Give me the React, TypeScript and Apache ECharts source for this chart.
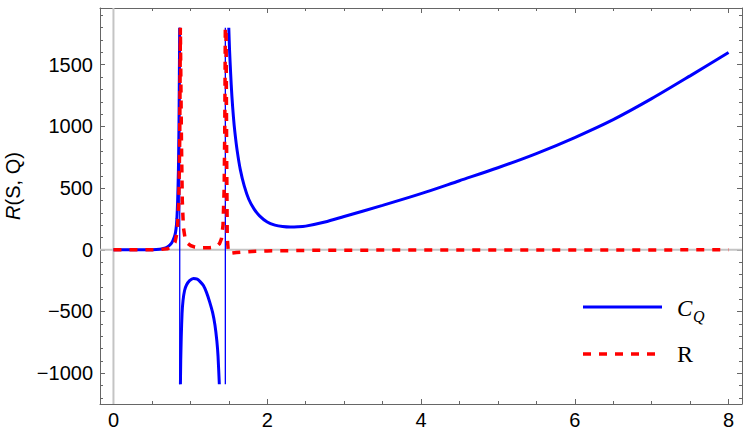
import React, { useEffect, useRef } from "react";
import * as echarts from "echarts";

// ---- data ----
const xMajorTicks = [0, 2, 4, 6, 8];
const xMinorTicks = [0.5, 1, 1.5, 2.5, 3, 3.5, 4.5, 5, 5.5, 6.5, 7, 7.5];
const yMajorTicks = [-1000, -500, 0, 500, 1000, 1500];
const yMinorTicks = [-1200, -1100, -900, -800, -700, -600, -400, -300, -200, -100, 100, 200, 300, 400, 600, 700, 800, 900, 1100, 1200, 1300, 1400, 1600, 1700, 1800, 1900];

// C_Q, branch left of first pole
const cqLeftX = [0, 0.3, 0.5, 0.6, 0.65, 0.7, 0.74, 0.77, 0.8, 0.815, 0.825, 0.835, 0.845, 0.852, 0.857, 0.861];
const cqLeftY = [0, 0, 1, 4, 10, 22, 42, 70, 120, 175, 250, 400, 650, 1000, 1400, 1800];
// C_Q, branch between poles
const cqMidX = [0.871, 0.875, 0.882, 0.892, 0.905, 0.925, 0.95, 0.99, 1.04, 1.09, 1.13, 1.17, 1.21, 1.25, 1.29, 1.32, 1.345, 1.36, 1.377];
const cqMidY = [-1090, -900, -700, -520, -410, -330, -285, -250, -232, -238, -260, -290, -345, -420, -510, -610, -740, -860, -1090];
// C_Q, branch right of second pole
const cqRightX = [1.5, 1.51, 1.525, 1.54, 1.56, 1.58, 1.61, 1.65, 1.7, 1.76, 1.83, 1.9, 2.0, 2.1, 2.2, 2.3, 2.4, 2.5, 2.75, 3.0, 3.5, 4.0, 4.5, 5.0, 5.5, 6.0, 6.5, 7.0, 7.5, 8.0];
const cqRightY = [1800, 1620, 1420, 1250, 1080, 950, 800, 650, 520, 410, 330, 275, 225, 200, 188, 184, 186, 192, 225, 270, 360, 455, 560, 665, 780, 910, 1055, 1225, 1410, 1600];
// C_Q, connecting strokes through the poles
const cqPoleX = [0.862, 1.455];
const cqPoleTop = 1800;
const cqPoleBottom = -1090;

// R
const rX = [0, 0.4, 0.6, 0.7, 0.76, 0.8, 0.83, 0.85, 0.862, 0.87, 0.876, 0.884, 0.895, 0.91, 0.93, 0.96, 1.0, 1.06, 1.15, 1.25, 1.31, 1.35, 1.38, 1.405, 1.425, 1.44, 1.448, 1.455, 1.465, 1.472, 1.48, 1.495, 1.53, 1.6, 1.8, 2.0, 2.5, 3.0, 4.0, 5.0, 6.0, 7.0, 8.0];
const rY = [0, 0, 2, 8, 25, 60, 150, 400, 900, 1800, 1800, 900, 400, 180, 100, 55, 35, 22, 16, 17, 22, 32, 50, 90, 200, 500, 1000, 1800, 1800, 800, 100, -25, -28, -22, -13, -9, -5, -3, -2, -1, -1, -1, 0];

const X_MIN = -0.175;
const X_MAX = 8.175;
const Y_MIN = -1250;
const Y_MAX = 1960;

const FRAME = "#666666";
const ZERO_AXIS = "#c4c4c4";
const LABEL_FONT = "Liberation Sans, Arial, sans-serif";
const SERIF = "Liberation Serif, Times New Roman, serif";

function zip(xs: number[], ys: number[]) {
  return xs.map((x, i) => [x, ys[i]]);
}

export default function App() {
  const ref = useRef<HTMLDivElement>(null);

  useEffect(() => {
    document.body.style.margin = "0";
    if (!ref.current) return;
    const chart = echarts.init(ref.current, null, { renderer: "svg" });

    const mkX = (position: string, ticks: number[], len: number, labels: boolean, line: boolean) => ({
      type: "value",
      position,
      min: X_MIN,
      max: X_MAX,
      axisLine: { show: line, onZero: false, lineStyle: { color: FRAME, width: 1 } },
      axisTick: { show: true, inside: true, length: len, customValues: ticks, lineStyle: { color: FRAME, width: 1 } },
      axisLabel: labels
        ? { show: true, customValues: ticks, margin: 6, color: "#000", fontSize: 20, fontFamily: LABEL_FONT }
        : { show: false },
      splitLine: { show: false },
    });
    const mkY = (position: string, ticks: number[], len: number, labels: boolean, line: boolean) => ({
      type: "value",
      position,
      min: Y_MIN,
      max: Y_MAX,
      axisLine: { show: line, onZero: false, lineStyle: { color: FRAME, width: 1 } },
      axisTick: { show: true, inside: true, length: len, customValues: ticks, lineStyle: { color: FRAME, width: 1 } },
      axisLabel: labels
        ? {
            show: true,
            customValues: ticks,
            margin: 7,
            color: "#000",
            fontSize: 20,
            fontFamily: LABEL_FONT,
            formatter: (v: number) => String(v).replace("-", "\u2212"),
          }
        : { show: false },
      splitLine: { show: false },
    });

    const blueThick = {
      type: "line",
      showSymbol: false,
      symbol: "none",
      xAxisIndex: 0,
      yAxisIndex: 0,
      lineStyle: { color: "#0000ff", width: 3 },
      z: 3,
    };

    const poleData: any[] = [];
    cqPoleX.forEach((x, i) => {
      if (i > 0) poleData.push([x, "-"]);
      poleData.push([x, cqPoleTop]);
      poleData.push([x, cqPoleBottom]);
    });

    const zeroStyle = { color: ZERO_AXIS, width: 2 };

    const option: any = {
      animation: false,
      grid: { left: 100, right: 8, top: 8, bottom: 31, containLabel: false },
      xAxis: [
        mkX("bottom", xMajorTicks, 5, true, true),
        mkX("bottom", xMinorTicks, 3, false, false),
        mkX("top", xMajorTicks, 5, false, true),
        mkX("top", xMinorTicks, 3, false, false),
      ],
      yAxis: [
        mkY("left", yMajorTicks, 5, true, true),
        mkY("left", yMinorTicks, 3, false, false),
        mkY("right", yMajorTicks, 5, false, true),
        mkY("right", yMinorTicks, 3, false, false),
      ],
      series: [
        {
          type: "line",
          data: [[0, Y_MIN], [0, Y_MAX]],
          showSymbol: false,
          symbol: "none",
          lineStyle: zeroStyle,
          z: 1,
          silent: true,
        },
        {
          type: "line",
          data: [[X_MIN, 0], [X_MAX, 0]],
          showSymbol: false,
          symbol: "none",
          lineStyle: zeroStyle,
          z: 1,
          silent: true,
        },
        { ...blueThick, name: "C_Q", data: zip(cqLeftX, cqLeftY), smooth: 0.2 },
        { ...blueThick, name: "C_Q", data: zip(cqMidX, cqMidY), smooth: 0.15 },
        { ...blueThick, name: "C_Q", data: zip(cqRightX, cqRightY), smooth: 0.3 },
        {
          type: "line",
          name: "C_Q",
          data: poleData,
          connectNulls: false,
          showSymbol: false,
          symbol: "none",
          lineStyle: { color: "#0000ff", width: 1.3 },
          z: 3,
        },
        {
          type: "line",
          name: "R",
          data: zip(rX, rY),
          showSymbol: false,
          symbol: "none",
          lineStyle: { color: "#ff0000", width: 3.5, type: [8, 8] },
          z: 4,
        },
      ],
      graphic: [
        {
          type: "text",
          x: 13,
          y: 186,
          rotation: Math.PI / 2,
          style: {
            text: "{i|R}{n|(S, Q)}",
            align: "center",
            verticalAlign: "middle",
            fill: "#000",
            rich: {
              i: { fontStyle: "italic", fontSize: 20, fontFamily: LABEL_FONT, fill: "#000" },
              n: { fontSize: 20, fontFamily: LABEL_FONT, fill: "#000" },
            },
          },
        },
        {
          type: "line",
          shape: { x1: 583, y1: 307, x2: 662, y2: 307 },
          style: { stroke: "#0000ff", lineWidth: 3 },
        },
        {
          type: "line",
          shape: { x1: 583, y1: 354, x2: 660, y2: 354 },
          style: { stroke: "#ff0000", lineWidth: 3.5, lineDash: [8, 8] },
        },
        {
          type: "text",
          x: 677,
          y: 308,
          style: { text: "C", font: "italic 23px " + SERIF, fill: "#000", verticalAlign: "middle" },
        },
        {
          type: "text",
          x: 693,
          y: 316,
          style: { text: "Q", font: "italic 16px " + SERIF, fill: "#000", verticalAlign: "middle" },
        },
        {
          type: "text",
          x: 677,
          y: 354,
          style: { text: "R", font: "24px " + SERIF, fill: "#000", verticalAlign: "middle" },
        },
      ],
    };

    chart.setOption(option);
    return () => chart.dispose();
  }, []);

  return <div ref={ref} style={{ width: 750, height: 435 }} />;
}
